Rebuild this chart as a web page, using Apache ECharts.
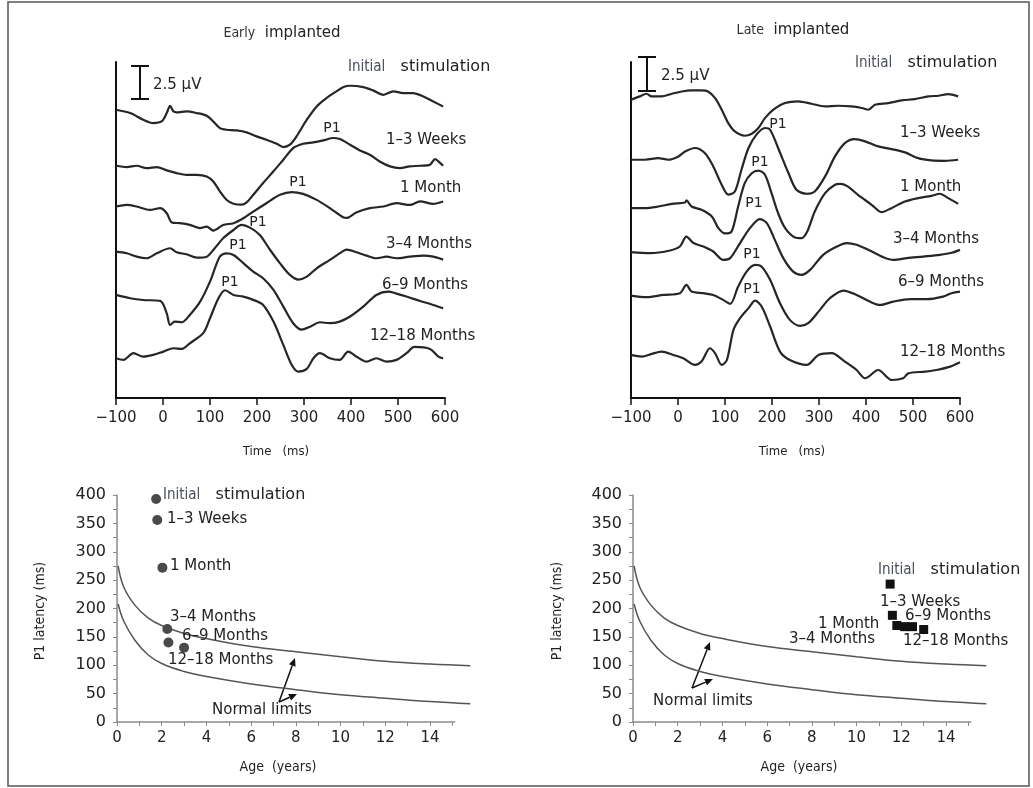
<!DOCTYPE html>
<html>
<head>
<meta charset="utf-8">
<title>P1 latency – early vs late implanted</title>
<script src="https://cdn.jsdelivr.net/npm/echarts@6/dist/echarts.min.js"></script>
<style>
  html, body { margin: 0; padding: 0; background: #fff; }
  #chart { width: 1033px; height: 788px; }
</style>
</head>
<body>
<div id="chart"></div>
<script>
// ---- data ----
var traceNames = ['Initial stimulation', '1\u20133 Weeks', '1 Month', '3\u20134 Months', '6\u20139 Months', '12\u201318 Months'];
var timeTicks = [-100, 0, 100, 200, 300, 400, 500, 600];

// waveforms, [time ms, amplitude uV relative to the trace baseline]
var earlyInitial = [[-100,0],[-70,-0.25],[-42,-0.75],[-21,-1.0],[-3,-0.88],[8,-0.25],[15,0.3],[22,-0.12],[29,-0.2],[50,-0.12],[72,-0.25],[93,-0.45],[107,-0.88],[121,-1.38],[135,-1.5],[157,-1.55],[178,-1.7],[199,-2.0],[220,-2.25],[242,-2.55],[256,-2.8],[270,-2.62],[284,-2.0],[306,-0.75],[327,0.25],[348,0.88],[369,1.38],[384,1.7],[398,1.8],[426,1.7],[447,1.45],[469,1.12],[490,1.38],[511,1.25],[532,1.25],[554,1.0],[575,0.62],[596,0.25]];
var earlyWeeks = [[-100,0],[-77,-0.1],[-56,0],[-35,-0.18],[-13,-0.1],[8,-0.35],[29,-0.55],[50,-0.68],[72,-0.68],[93,-0.8],[107,-1.18],[121,-1.92],[135,-2.55],[150,-2.85],[167,-2.92],[178,-2.75],[192,-2.18],[213,-1.3],[235,-0.42],[256,0.45],[277,1.32],[298,1.65],[320,1.75],[341,1.9],[362,2.08],[376,2.0],[398,1.58],[419,1.15],[440,0.82],[461,0.32],[483,-0.05],[504,-0.18],[525,-0.05],[547,0],[568,0.08],[579,0.5],[586,0.32],[596,0]];
var earlyMonth = [[-100,0],[-77,0.12],[-56,0],[-28,-0.25],[-6,-0.12],[8,-0.5],[19,-1.2],[36,-1.25],[57,-1.38],[79,-1.62],[93,-1.5],[107,-1.8],[128,-1.38],[150,-1.25],[171,-0.88],[192,-0.38],[220,0.25],[249,0.88],[274,1.08],[298,0.95],[327,0.5],[355,-0.12],[383,-0.8],[392,-0.85],[411,-0.45],[440,-0.12],[469,0],[497,0.25],[525,0.12],[547,0.38],[575,0.2],[596,0.38]];
var earlyMonths34 = [[-100,0],[-77,-0.12],[-56,-0.38],[-35,-0.5],[-13,-0.12],[15,0.25],[29,-0.05],[50,-0.2],[72,-0.45],[93,-0.38],[107,0.12],[128,1.0],[150,1.62],[167,2.0],[185,1.8],[206,1.25],[228,0.12],[249,-0.88],[270,-1.75],[288,-2.1],[306,-1.88],[327,-1.25],[355,-0.62],[384,0.05],[391,0.15],[412,-0.05],[433,-0.3],[454,-0.5],[476,-0.38],[497,-0.5],[525,-0.38],[554,-0.3],[575,-0.38],[596,-0.6]];
var earlyMonths69 = [[-100,0],[-70,-0.25],[-42,-0.38],[-6,-0.45],[8,-1.38],[15,-2.25],[25,-2.0],[40,-2.05],[57,-1.5],[79,-0.5],[100,1.0],[121,2.88],[135,3.12],[150,3.0],[171,2.38],[192,1.75],[213,1.25],[235,0.38],[256,-0.88],[277,-2.12],[295,-2.6],[313,-2.38],[334,-2.05],[355,-2.12],[376,-2.0],[398,-1.62],[426,-0.88],[454,0],[480,0.25],[495,0.12],[518,-0.12],[547,-0.45],[575,-0.75],[596,-1.0]];
var earlyMonths1218 = [[-100,0],[-84,-0.12],[-63,0.38],[-42,0.12],[-21,0.25],[1,0.5],[22,0.75],[40,0.7],[57,1.12],[86,1.9],[100,3.0],[118,4.5],[132,5.1],[150,4.75],[171,4.62],[192,4.38],[213,4.0],[235,2.75],[256,1.0],[274,-0.5],[288,-1.0],[306,-0.8],[320,0],[334,0.38],[355,0],[376,-0.12],[394,0.5],[412,0.12],[433,-0.25],[454,0],[476,-0.25],[497,-0.12],[518,0.38],[535,0.85],[568,0.7],[586,0.12],[596,0]];

var lateInitial = [[-100,0],[-81,0.25],[-67,0.45],[-56,0.25],[-35,0.25],[-13,0.45],[8,0.62],[29,0.7],[50,0.7],[64,0.62],[79,0.12],[93,-0.75],[107,-1.75],[121,-2.38],[142,-2.7],[157,-2.55],[171,-2.12],[185,-1.38],[203,-0.75],[228,-0.25],[256,-0.12],[284,-0.3],[313,-0.5],[341,-0.45],[369,-0.5],[391,-0.62],[405,-0.75],[419,-0.38],[447,-0.25],[476,-0.05],[504,0.05],[533,0.25],[554,0.3],[575,0.42],[596,0.25]];
var lateWeeks = [[-100,0],[-70,0],[-42,0.12],[-21,0],[1,0.25],[15,0.62],[36,0.88],[57,0.5],[75,-0.5],[93,-1.88],[107,-2.62],[121,-2.38],[135,-0.75],[150,0.88],[167,1.88],[185,2.38],[196,2.25],[213,0.88],[235,-1.0],[252,-2.25],[274,-2.55],[291,-2.38],[313,-1.25],[334,0.25],[355,1.25],[376,1.55],[398,1.38],[426,1.0],[454,0.8],[483,0.55],[511,0.12],[539,-0.05],[568,-0.08],[596,0]];
var lateMonth = [[-100,0],[-70,0],[-42,0.12],[-13,0.32],[15,0.42],[18,0.58],[29,0.12],[50,-0.12],[72,-0.62],[86,-1.5],[100,-1.9],[114,-1.75],[128,0.12],[142,1.88],[157,2.62],[171,2.82],[185,2.5],[199,1.12],[213,-0.38],[228,-1.5],[249,-2.2],[263,-2.25],[275,-1.75],[291,-0.25],[313,1.12],[334,1.75],[345,1.82],[360,1.65],[383,1.0],[412,0.25],[433,-0.3],[454,0],[483,0.5],[511,0.75],[539,0.92],[557,1.08],[575,0.75],[596,0.32]];
var lateMonths34 = [[-100,0],[-60,-0.08],[-17,0.12],[4,0.42],[18,1.17],[33,0.68],[54,0.42],[75,0.05],[96,-0.58],[111,-0.45],[132,0.68],[153,1.8],[174,2.48],[189,2.18],[206,0.92],[224,-0.45],[245,-1.46],[263,-1.7],[281,-1.33],[309,-0.2],[338,0.42],[359,0.68],[380,0.55],[408,0.12],[437,-0.38],[458,-0.58],[487,-0.45],[522,-0.33],[557,-0.2],[582,-0.05],[600,0.17]];
var lateMonths69 = [[-100,0],[-67,-0.12],[-31,0.05],[4,0.18],[18,0.8],[29,0.3],[54,0.18],[75,0.05],[96,-0.32],[111,-0.62],[128,0.68],[146,1.8],[164,2.3],[178,2.17],[196,1.18],[217,-0.57],[238,-1.82],[260,-2.27],[277,-2.07],[302,-1.07],[323,-0.2],[352,0.38],[380,0.05],[408,-0.45],[430,-0.7],[458,-0.45],[494,-0.27],[529,-0.27],[564,-0.08],[582,0.18],[600,0.3]];
var lateMonths1218 = [[-100,0],[-77,-0.12],[-56,0.08],[-35,0.25],[-10,0],[11,-0.25],[36,-0.75],[50,-0.5],[68,0.5],[79,0.12],[93,-0.75],[104,-0.38],[118,1.88],[132,2.76],[150,3.51],[164,4.08],[178,3.63],[196,2.13],[217,0.25],[238,-0.38],[274,-0.75],[299,0],[327,0.13],[355,-0.5],[380,-1.13],[398,-1.75],[426,-1.13],[455,-1.88],[479,-1.75],[490,-1.38],[526,-1.25],[550,-1.13],[579,-0.88],[600,-0.55]];

// P1 latency vs age
var earlyAge = [1.75, 1.8, 2.03, 2.25, 2.3, 3.0];
var earlyLatency = [393, 356, 272, 164, 140, 131];
var lateAge = [11.5, 11.6, 11.8, 12.15, 12.5, 13.0];
var lateLatency = [243, 188, 170, 168, 168, 163];

// normal limits (upper / lower)
var normalAge = [0.05, 0.3, 0.8, 1.4, 2, 3, 4, 6, 8, 10, 12, 14, 15.8];
var upperLimit = [275, 238, 206, 183, 170, 156, 147, 133, 124, 115, 107, 102, 99];
var lowerLimit = [208, 178, 144, 118, 103, 89, 80, 67, 57, 48, 42, 36, 32];

// ---- layout (stacking of traces, in uV above the time axis) ----
var earlyBaseline = [21.62, 17.42, 14.36, 10.98, 7.73, 2.98];
var lateBaseline = [22.37, 17.87, 14.24, 10.94, 7.68, 3.23];

var FONT = '"DejaVu Sans", "Liberation Sans", sans-serif';
var NARROW = '"Liberation Sans Narrow", "DejaVu Sans Condensed", "Liberation Sans", sans-serif';
var INK = '#222';
var AGE_MAX = 15.1, CURVE_MAX = 15.8, AGE_PX = 22.36;

function zip(xs, ys) {
  return xs.map(function (x, i) { return [x, ys[i]]; });
}

function traceSeries(traces, baselines, idx) {
  return traces.map(function (tr, i) {
    return {
      name: traceNames[i],
      type: 'line',
      xAxisIndex: idx,
      yAxisIndex: idx,
      data: tr.map(function (p) { return [p[0], p[1] + baselines[i]]; }),
      smooth: 0.3,
      showSymbol: false,
      silent: true,
      lineStyle: { color: '#262626', width: 2.2 }
    };
  });
}

function timeAxis(idx) {
  return {
    gridIndex: idx, type: 'value', min: -100, max: 600, interval: 100,
    axisLine: { onZero: false, lineStyle: { color: '#111', width: 2 } },
    axisTick: { length: 7, lineStyle: { color: '#111', width: 1.5 } },
    axisLabel: {
      margin: 13, fontSize: 15, fontFamily: FONT, color: INK,
      formatter: function (v) { return v < 0 ? '\u2212' + (-v) : String(v); }
    },
    splitLine: { show: false }
  };
}
function uvAxis(idx) {
  return {
    gridIndex: idx, type: 'value', min: 0, max: 25.2,
    axisLine: { show: true, onZero: false, lineStyle: { color: '#111', width: 2 } },
    axisTick: { show: false }, axisLabel: { show: false }, splitLine: { show: false }
  };
}
function ageAxis(idx) {
  return {
    gridIndex: idx, type: 'value', min: 0, max: AGE_MAX, interval: 1,
    axisLine: { onZero: false, lineStyle: { color: '#8a8a8a', width: 1.5 } },
    axisTick: { length: 4, lineStyle: { color: '#8a8a8a' } },
    axisLabel: {
      margin: 9, fontSize: 15, fontFamily: FONT, color: INK, showMaxLabel: false,
      formatter: function (v) { return v % 2 === 0 ? String(v) : ''; }
    },
    splitLine: { show: false }
  };
}
function latencyAxis(idx) {
  return {
    gridIndex: idx, type: 'value', min: 0, max: 400, interval: 25,
    axisLine: { show: true, onZero: false, lineStyle: { color: '#8a8a8a', width: 1.5 } },
    axisTick: { show: true, length: 4, lineStyle: { color: '#8a8a8a' } },
    axisLabel: {
      margin: 11, fontSize: 16, fontFamily: FONT, color: INK,
      formatter: function (v) { return v % 50 === 0 ? String(v) : ''; }
    },
    splitLine: { show: false }
  };
}
// hidden axes for the normal-limit curves, which run a little past the drawn age axis
function hiddenAxis(idx, min, max) {
  return { gridIndex: idx, type: 'value', min: min, max: max, show: false, splitLine: { show: false } };
}
function limitSeries(values, idx) {
  return {
    type: 'line', xAxisIndex: idx, yAxisIndex: idx,
    data: zip(normalAge, values), smooth: 0.4, showSymbol: false,
    silent: true,
    lineStyle: { color: '#555', width: 1.5 }
  };
}

// ---- text helpers ----
function txt(x, y, s, size, extra) {
  var st = { text: s, x: 0, y: 0, fill: INK, font: size + 'px ' + FONT, align: 'left', verticalAlign: 'middle' };
  if (extra) { for (var k in extra) st[k] = extra[k]; }
  return { type: 'text', x: x, y: y, style: st, z: 10 };
}
function initialStim(x, y) {
  return {
    type: 'text', x: x, y: y, z: 10,
    style: {
      text: '{a|Initial}{b|   stimulation}', align: 'left', verticalAlign: 'middle',
      rich: {
        a: { fontSize: 15, fontFamily: NARROW, fill: '#4a4f5a', color: '#4a4f5a' },
        b: { fontSize: 16, fontFamily: FONT, fill: INK, color: INK }
      }
    }
  };
}
function titleText(cx, y, first, rest) {
  return {
    type: 'text', x: cx, y: y, z: 10,
    style: {
      text: '{a|' + first + '}{b|  ' + rest + '}', align: 'center', verticalAlign: 'middle',
      rich: {
        a: { fontSize: 14, fontFamily: NARROW, fill: '#333', color: '#333' },
        b: { fontSize: 15, fontFamily: FONT, fill: INK, color: INK }
      }
    }
  };
}
function scaleBar(x, y1, y2) {
  var ls = { stroke: '#111', lineWidth: 2 };
  return [
    { type: 'line', shape: { x1: x, y1: y1, x2: x, y2: y2 }, style: ls },
    { type: 'line', shape: { x1: x - 9, y1: y1, x2: x + 9, y2: y1 }, style: ls },
    { type: 'line', shape: { x1: x - 9, y1: y2, x2: x + 9, y2: y2 }, style: ls }
  ];
}
function arrow(x1, y1, x2, y2) {
  var a = Math.atan2(y2 - y1, x2 - x1), L = 8, W = 3.5;
  var bx = x2 - L * Math.cos(a), by = y2 - L * Math.sin(a);
  var px = -Math.sin(a) * W, py = Math.cos(a) * W;
  return [
    { type: 'line', shape: { x1: x1, y1: y1, x2: bx, y2: by }, style: { stroke: '#111', lineWidth: 1.5 } },
    { type: 'polygon', shape: { points: [[x2, y2], [bx + px, by + py], [bx - px, by - py]] }, style: { fill: '#111' } }
  ];
}

var graphics = [
  { type: 'rect', shape: { x: 8, y: 2, width: 1021, height: 784 }, style: { fill: 'none', stroke: '#555', lineWidth: 1.5 }, z: 0 },
  titleText(282, 33, 'Early', 'implanted'),
  titleText(793, 30, 'Late', 'implanted'),
  txt(153, 85, '2.5 \u00b5V', 15),
  txt(661, 76, '2.5 \u00b5V', 15),
  // early traces
  initialStim(348, 67),
  txt(386, 140, traceNames[1], 15),
  txt(400, 188, traceNames[2], 15),
  txt(386, 244, traceNames[3], 15),
  txt(382, 285, traceNames[4], 15),
  txt(370, 336, traceNames[5], 15),
  txt(332, 128, 'P1', 14, { align: 'center' }),
  txt(298, 182, 'P1', 14, { align: 'center' }),
  txt(258, 222, 'P1', 14, { align: 'center' }),
  txt(238, 245, 'P1', 14, { align: 'center' }),
  txt(230, 282, 'P1', 14, { align: 'center' }),
  // late traces
  initialStim(855, 63),
  txt(900, 133, traceNames[1], 15),
  txt(900, 187, traceNames[2], 15),
  txt(893, 239, traceNames[3], 15),
  txt(898, 282, traceNames[4], 15),
  txt(900, 352, traceNames[5], 15),
  txt(778, 124, 'P1', 14, { align: 'center' }),
  txt(760, 162, 'P1', 14, { align: 'center' }),
  txt(754, 203, 'P1', 14, { align: 'center' }),
  txt(752, 254, 'P1', 14, { align: 'center' }),
  txt(752, 289, 'P1', 14, { align: 'center' }),
  // axis names
  txt(276, 452, 'Time   (ms)', 13, { align: 'center', font: '13px ' + NARROW }),
  txt(792, 452, 'Time   (ms)', 13, { align: 'center', font: '13px ' + NARROW }),
  txt(278, 767, 'Age  (years)', 14, { align: 'center', font: '14px ' + NARROW }),
  txt(799, 767, 'Age  (years)', 14, { align: 'center', font: '14px ' + NARROW }),
  { type: 'text', x: 40, y: 611, rotation: Math.PI / 2, z: 10,
    style: { text: 'P1 latency (ms)', fill: INK, font: '14px ' + NARROW, align: 'center', verticalAlign: 'middle' } },
  { type: 'text', x: 557, y: 611, rotation: Math.PI / 2, z: 10,
    style: { text: 'P1 latency (ms)', fill: INK, font: '14px ' + NARROW, align: 'center', verticalAlign: 'middle' } },
  // early scatter labels
  initialStim(163, 495),
  txt(167, 519, traceNames[1], 15),
  txt(170, 566, traceNames[2], 15),
  txt(170, 617, traceNames[3], 15),
  txt(182, 636, traceNames[4], 15),
  txt(168, 660, traceNames[5], 15),
  txt(212, 710, 'Normal limits', 15),
  // late scatter labels
  initialStim(878, 570),
  txt(880, 602, traceNames[1], 15),
  txt(905, 616, traceNames[4], 15),
  txt(818, 624, traceNames[2], 15),
  txt(789, 639, traceNames[3], 15),
  txt(903, 641, traceNames[5], 15),
  txt(653, 701, 'Normal limits', 15)
]
  .concat(scaleBar(140, 66, 99))
  .concat(scaleBar(647, 57, 91))
  .concat(arrow(279, 702, 295, 658))
  .concat(arrow(279, 702, 297, 694))
  .concat(arrow(692, 688, 710, 642))
  .concat(arrow(692, 688, 713, 679));

var leftA = 117, leftB = 633;
var option = {
  backgroundColor: '#fff',
  animation: false,
  grid: [
    { left: 116, right: 588, top: 62, bottom: 390 },
    { left: 631, right: 73, top: 62, bottom: 390 },
    { left: leftA, width: AGE_MAX * AGE_PX, top: 495, bottom: 66 },
    { left: leftB, width: AGE_MAX * AGE_PX, top: 495, bottom: 66 },
    { left: leftA, width: CURVE_MAX * AGE_PX, top: 495, bottom: 66 },
    { left: leftB, width: CURVE_MAX * AGE_PX, top: 495, bottom: 66 }
  ],
  xAxis: [timeAxis(0), timeAxis(1), ageAxis(2), ageAxis(3),
    hiddenAxis(4, 0, CURVE_MAX), hiddenAxis(5, 0, CURVE_MAX)],
  yAxis: [uvAxis(0), uvAxis(1), latencyAxis(2), latencyAxis(3),
    hiddenAxis(4, 0, 400), hiddenAxis(5, 0, 400)],
  series: []
    .concat(traceSeries([earlyInitial, earlyWeeks, earlyMonth, earlyMonths34, earlyMonths69, earlyMonths1218], earlyBaseline, 0))
    .concat(traceSeries([lateInitial, lateWeeks, lateMonth, lateMonths34, lateMonths69, lateMonths1218], lateBaseline, 1))
    .concat([
      limitSeries(upperLimit, 4), limitSeries(lowerLimit, 4),
      limitSeries(upperLimit, 5), limitSeries(lowerLimit, 5),
      {
        type: 'scatter', xAxisIndex: 2, yAxisIndex: 2, data: zip(earlyAge, earlyLatency),
        symbol: 'circle', symbolSize: 10, itemStyle: { color: '#4a4a4a', opacity: 1 }, z: 5
      },
      {
        type: 'scatter', xAxisIndex: 3, yAxisIndex: 3, data: zip(lateAge, lateLatency),
        symbol: 'rect', symbolSize: 9, itemStyle: { color: '#111', opacity: 1 }, z: 5
      }
    ]),
  graphic: graphics
};

var myChart = echarts.init(document.getElementById('chart'));
myChart.setOption(option);
</script>
</body>
</html>
